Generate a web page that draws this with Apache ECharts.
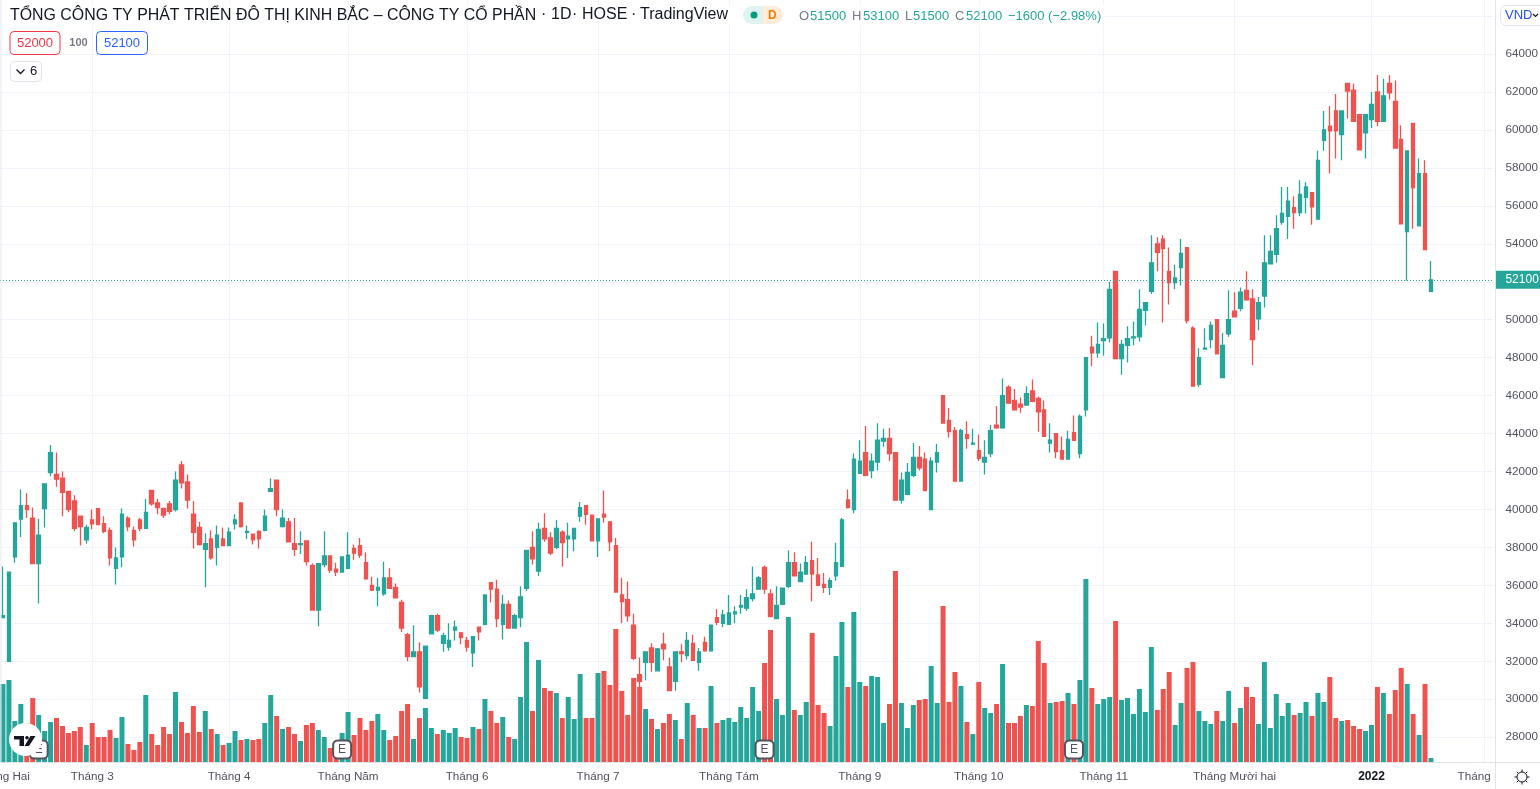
<!DOCTYPE html>
<html><head><meta charset="utf-8">
<style>html,body{margin:0;padding:0;background:#fff}#c{width:1540px;height:789px}</style>
<script src="https://cdn.jsdelivr.net/npm/echarts@6/dist/echarts.min.js"></script>
</head><body><div id="c"></div>
<script>
const opens=[34300,32000,37500,39500,40200,39550,37150,40050,41950,41850,41650,40950,40450,39650,38400,39450,40050,39250,38900,36900,
37500,39550,38900,39450,39000,41000,40350,40050,40300,40000,42350,41450,39750,39050,37900,38450,38000,38450,38100,39250,
40350,38800,38700,38850,38900,40950,41550,39100,39350,38200,38150,38350,37050,34700,37100,37550,36850,36700,36900,37950,
38100,37200,36000,35750,35550,36400,35900,35100,33400,32250,32500,30050,33450,34400,32950,32750,33650,33500,33100,32450,
33800,33950,36150,35800,33950,35000,33750,34300,35850,38000,36750,39000,38500,38000,38800,38450,38450,39650,40200,39700,
38350,39750,39350,38100,35500,35250,33900,31300,31950,32700,31500,32900,31700,30950,32500,32300,32950,31950,33000,32550,
34300,34000,33950,34500,34850,34800,35300,35800,36950,35550,34250,35000,35950,37200,36200,36600,37300,36550,36050,35900,
36500,37000,40500,40000,41900,43000,42050,42500,43600,43750,43000,40500,40800,41800,42750,42650,40000,42500,46000,44700,
44150,41500,43950,43450,43100,42500,42950,44450,44300,46450,45750,45550,45500,46250,45850,45250,43500,44000,43100,42650,
44050,42950,45250,48550,48250,48900,49050,52550,47950,48650,49050,49100,50500,51500,54000,54250,52550,51950,52750,53800,
49550,46600,48450,48950,50000,46950,49250,50450,50600,51550,51100,50050,51250,52950,53450,55150,55450,55900,55650,56450,
56700,55300,59450,60200,61000,59750,62450,62100,60800,59850,60550,62000,60450,62450,61500,59500,54650,60350,54950,57700,51500];
const closes=[34400,36700,39300,40200,40000,37150,38650,41350,43000,41600,40900,40000,39000,39100,39050,39250,39200,38850,37450,37450,
39750,39100,38400,39000,39850,40300,40100,39700,39900,41550,41400,40500,38800,38150,38200,37450,38650,38100,38800,39450,
39100,38850,38400,38450,39650,41100,40000,39550,38300,37900,38200,37250,34700,37150,37550,36800,36700,37500,37600,37700,
37600,36350,35750,35900,36400,35850,35350,33750,32250,32500,30650,32800,34400,33650,33350,33100,33800,33250,32750,33300,
33550,35500,35800,34250,35000,33750,34400,35400,37850,37400,38950,38450,37700,39000,38250,38600,39000,40100,39750,38350,
39500,39600,38300,35650,35150,34400,32150,30950,32500,31950,32650,32650,30450,32500,32400,33100,32050,32500,32550,33900,
34050,34450,34550,34600,34950,35350,35550,36400,35800,34350,34950,35850,37200,36500,36700,37200,36600,36000,35900,36250,
37200,39450,40100,42650,42550,41800,42550,43650,43750,42950,40500,41550,41950,42750,42200,41000,42550,43000,44550,44100,
41500,44150,43750,43500,42700,42750,44150,44300,46000,45600,45250,45400,46100,45700,45150,43850,43650,43050,42650,43700,
43650,44900,48000,48250,48700,49000,51600,47950,48700,49000,49100,50550,50900,53000,53550,53750,51950,52200,53500,49950,
46500,48000,48500,49700,48200,48650,50000,50150,51450,51050,48950,50900,53000,53600,54800,55600,56250,55650,56600,57000,
55950,58400,60000,59950,59950,61000,62050,60450,58950,60800,61350,60450,61800,61950,59050,55050,58900,56950,57700,53700,52100];
const highs=[37000,36700,39300,41050,40850,40100,39500,41350,43400,43000,42000,40950,40750,39650,39200,40000,40050,39650,39050,38000,
40050,39650,39100,39550,40550,41000,40550,40100,40450,42000,42550,41850,40450,39350,38750,38900,39150,39050,39050,39750,
40350,39150,38700,38900,40000,41650,41550,40000,39550,39550,38850,38350,37150,37150,38850,37550,37200,37500,38800,38150,
38500,37750,36450,36400,37250,36900,36100,35250,33500,33900,33000,32800,34450,34500,33500,34000,34150,33550,33300,33300,
33800,35500,36150,36300,35500,35200,34500,35950,37850,38850,39300,39800,38800,39450,38900,39300,39000,40400,40200,39700,
39500,41000,39350,38500,36400,36200,34500,32200,32500,32950,32700,33500,32200,32500,32900,33550,33400,32700,33300,33900,
34750,34700,35500,34900,35500,35800,37000,36500,37050,35800,35950,35850,37850,37750,37150,37550,38300,37450,36650,36400,
38250,39550,41050,42950,43650,44400,42950,44550,44250,44300,43000,41950,42450,43500,43350,43000,42750,43450,46000,45350,
44350,44250,44650,44250,43950,43650,44450,45450,46900,46550,46350,45900,46500,46850,45950,45750,44550,44000,43850,44150,
44950,45000,48000,49150,49850,49800,52000,52550,48950,49650,49900,51600,50900,54450,54350,54450,53800,52900,54250,53800,
49650,48500,49550,49900,50000,49300,51550,51450,51700,52550,51600,51200,54450,54450,55500,57000,57000,56500,57350,57250,
56700,58900,61000,61250,61900,61000,62450,62450,60800,60800,62000,62900,62700,62900,62600,60250,58900,60350,58500,58400,53100];
const lows=[34300,31950,37200,38550,39550,37150,35050,39050,41750,41200,39650,39850,38850,38100,38200,38950,39200,38750,37050,36050,
36950,38850,38050,38850,39000,40200,39750,39550,39750,39900,41100,40050,37950,38100,35900,37350,37050,38100,38100,38950,
39050,38450,38150,37950,38850,40950,39650,39050,38300,37550,37650,37050,34700,33850,36950,36650,36500,36700,36850,37350,
37450,36300,35700,34900,35450,35850,35350,33550,32000,32250,30350,30000,33450,33550,32500,32550,33100,32900,32500,31700,
33100,33900,35100,33800,33150,33750,33750,33800,35700,37100,36500,38300,37600,37900,37000,37450,37800,39350,39200,38350,
37500,39300,37800,35650,34000,34100,32050,30650,31000,31450,31500,32050,30450,30450,31950,32100,32050,31500,32500,32500,
33900,33800,33950,34000,34500,34650,35150,35800,35550,34350,34250,34950,35850,36500,36200,36550,35150,36000,35600,35500,
36250,37000,40050,39800,41900,41800,41650,42050,43300,42550,40500,40300,40750,41700,42050,41000,40000,41950,44550,43800,
41500,41500,43200,43400,42550,41850,42750,44250,44250,45600,45200,45100,45500,45650,44100,43850,43000,42700,42650,42650,
43650,42700,44900,47550,48000,48100,48800,47950,47100,47750,48650,48850,49700,51350,52550,49850,50800,51600,51800,49800,
46500,46450,48450,48500,48200,46950,49100,50150,50450,51000,47600,49450,50650,52950,53000,55000,54250,54800,55450,55600,
55000,55300,58900,57700,58500,58400,60600,60450,58950,58500,60100,60200,60450,61600,59050,55050,52050,54800,54950,53700,51500];
// volume, in units of 100 000 shares (estimated)
const volumes=[78,82,41,58,39,64,47,31,40,44,36,29,31,35,17,39,25,25,32,24,
45,18,12,20,67,28,17,35,28,70,40,29,56,30,51,33,28,17,19,31,
22,23,22,23,39,67,46,33,35,28,21,37,39,32,25,14,15,29,50,27,
44,32,41,48,32,22,26,51,58,23,44,54,34,28,32,29,34,25,24,35,
33,63,51,39,45,25,23,65,120,51,102,74,71,69,44,65,43,88,44,44,
89,91,77,133,71,47,84,75,53,43,33,39,48,42,23,59,47,34,34,76,
39,42,44,40,55,44,75,51,99,132,63,47,145,52,47,60,129,57,49,36,
106,140,75,150,80,76,86,85,39,58,191,59,34,57,62,63,96,59,156,60,
90,76,40,28,80,54,49,58,98,39,39,46,57,56,121,99,59,60,61,69,
58,82,183,74,58,63,65,141,62,64,48,73,50,115,52,73,90,37,59,94,
100,51,41,38,51,41,71,39,54,75,65,38,100,34,68,46,59,47,49,60,
46,69,60,85,44,41,42,36,33,31,37,75,69,48,72,94,78,48,27,78,4];
const monthBars=[0,15,38,58,78,100,122,144,164,185,207,230,249];
const monthNames=['Tháng Hai','Tháng 3','Tháng 4','Tháng Năm','Tháng 6','Tháng 7','Tháng Tám','Tháng 9','Tháng 10','Tháng 11','Tháng Mười hai','2022','Tháng Hai'];
const priceTicks=[64000,62000,60000,58000,56000,54000,52000,50000,48000,46000,44000,42000,40000,38000,36000,34000,32000,30000,28000];
const earningsBars=[6,57,128,180];
const lastPrice=52100;

const UP='#26a69a',DOWN='#ef5350',GRID='#f0f3fa',AX='#e0e3eb',TXT='#50535e';
const FONT='"Liberation Sans", Arial, sans-serif';
const BARS=251;
const categories=new Array(BARS).fill('');
monthBars.forEach((b,k)=>{categories[b]=monthNames[k];});
const labelled=new Set(monthBars);
const gridded=new Set(monthBars.slice(1));

const candles=opens.map((o,i)=>[o,closes[i],lows[i],highs[i]]);
const volData=volumes.map((v,i)=>({value:v,itemStyle:{color:closes[i]>=opens[i]?UP:DOWN}}));

function t(x,y,text,fill,size,extra){return Object.assign({type:'text',x,y,z:50,silent:true,
  style:{text,fill,font:(extra&&extra.weight?extra.weight+' ':'')+size+'px '+FONT,verticalAlign:'middle',align:(extra&&extra.align)||'left'}},{});}
function box(x,y,w,h,stroke,r){return {type:'rect',z:49,silent:true,shape:{x,y,width:w,height:h,r:r||4},style:{fill:'#fff',stroke,lineWidth:1}};}
function seg(x1,y1,x2,y2,c,w){return {type:'line',z:48,silent:true,shape:{x1,y1,x2,y2},style:{stroke:c,lineWidth:w||1}};}

const gear=[{type:'circle',z:60,silent:true,shape:{cx:1522,cy:777,r:5},style:{fill:'#fff',stroke:'#131722',lineWidth:1}}];
[[0,-1],[0,1],[1,0],[-1,0],[.7,.7],[.7,-.7],[-.7,.7],[-.7,-.7]].forEach(d=>{
  gear.push({type:'line',z:60,silent:true,shape:{x1:1522+d[0]*5,y1:777+d[1]*5,x2:1522+d[0]*7.5,y2:777+d[1]*7.5},style:{stroke:'#131722',lineWidth:1}});
});

const graphics=[
 {type:'rect',z:46,silent:true,shape:{x:1496,y:762,width:44,height:27},style:{fill:'#fff'}},
 {type:'rect',z:47,silent:true,shape:{x:0,y:5,width:1105,height:20},style:{fill:'rgba(255,255,255,0.85)'}},
 seg(1,0,1,762,'#e6e9f2'),
 seg(0,762.5,1540,762.5,AX),
 seg(1495.5,0,1495.5,789,AX),
 t(551,15,'1D','#131722',16),
 t(582,15,'HOSE','#131722',16),
 t(640,15,'TradingView','#131722',16),
 t(541,15,'·','#131722',16),
 t(572,15,'·','#131722',16),
 t(631,15,'·','#131722',16),
 {type:'rect',z:49,silent:true,shape:{x:743,y:6,width:20,height:18,r:[9,0,0,9]},style:{fill:'#dff3f0'}},
 {type:'rect',z:49,silent:true,shape:{x:763,y:6,width:20,height:18,r:[0,9,9,0]},style:{fill:'#ffecd9'}},
 {type:'circle',z:50,silent:true,shape:{cx:754,cy:15,r:3.5},style:{fill:'#089981'}},
 t(768,15.5,'D','#f57c00',12,{weight:'bold'}),
 t(799,16,'O','#787b86',13),t(810,16,'51500',UP,13),
 t(852,16,'H','#787b86',13),t(863,16,'53100',UP,13),
 t(905,16,'L','#787b86',13),t(913,16,'51500',UP,13),
 t(955,16,'C','#787b86',13),t(966,16,'52100',UP,13),
 t(1008,16,'−1600 (−2.98%)',UP,13),
 box(10,31.5,50,23,'#f23645'),t(35,43,'52000','#f23645',13,{align:'center'}),
 t(78.5,43,'100','#787b86',11,{weight:'bold',align:'center'}),
 box(96.5,31.5,51,23,'#2962ff'),t(122,43,'52100','#2962ff',13,{align:'center'}),
 box(10.5,61.5,31,20,AX),
 {type:'polyline',z:50,silent:true,shape:{points:[[16.5,69.5],[20.5,73.5],[24.5,69.5]]},style:{stroke:'#131722',lineWidth:1.3,fill:null}},
 t(30,71.5,'6','#131722',13),
 box(1500.5,5.5,46,20,AX,6),t(1505,15.5,'VND','#1e53e5',13),
 {type:'polyline',z:50,silent:true,shape:{points:[[1533,14],[1535.5,16.5],[1538,14]]},style:{stroke:'#131722',lineWidth:1.2,fill:null}},
 {type:'circle',z:70,silent:true,shape:{cx:25.5,cy:739.5,r:16.5},style:{fill:'#fff'}},
 {type:'rect',z:71,silent:true,shape:{x:14,y:736,width:10,height:3.5},style:{fill:'#131722'}},
 {type:'rect',z:71,silent:true,shape:{x:19.5,y:736,width:4.5,height:10},style:{fill:'#131722'}},
 {type:'circle',z:71,silent:true,shape:{cx:27,cy:737.7,r:1.8},style:{fill:'#131722'}},
 {type:'polygon',z:71,silent:true,shape:{points:[[30.5,736],[35.5,736],[29,746],[24.5,746]]},style:{fill:'#131722'}}
].concat(gear);

const chart=echarts.init(document.getElementById('c'),null,{renderer:'canvas'});
chart.setOption({
 animation:false,
 backgroundColor:'#fff',
 title:{text:'TỔNG CÔNG TY PHÁT TRIỂN ĐÔ THỊ KINH BẮC – CÔNG TY CỔ PHẦN',left:10,top:7.5,padding:0,z:51,
   textStyle:{fontFamily:FONT,fontSize:15.9,fontWeight:'normal',color:'#131722'}},
 grid:{left:0,top:0,width:BARS*5.95,height:762,containLabel:false,outerBoundsMode:'none'},
 xAxis:{type:'category',data:categories,boundaryGap:true,
   axisLine:{show:false},axisTick:{show:false},
   axisLabel:{show:true,interval:(i)=>labelled.has(i),margin:9,color:TXT,fontFamily:FONT,fontSize:11.7,hideOverlap:false,
     formatter:(v)=>v==='2022'?'{b|2022}':v,rich:{b:{fontWeight:'bold',color:'#131722',fontFamily:FONT,fontSize:12}}},
   splitLine:{show:true,interval:(i)=>gridded.has(i),alignWithLabel:true,lineStyle:{color:GRID,width:1}}},
 yAxis:[
  {type:'value',position:'right',offset:2,min:26694,max:66848,scale:true,
   axisLine:{show:false},
   axisTick:{show:false,customValues:priceTicks.concat([66000])},
   axisLabel:{customValues:priceTicks,margin:10,color:TXT,fontFamily:FONT,fontSize:11.7,padding:[4,0,0,0],formatter:(v)=>String(v)},
   splitLine:{show:true,lineStyle:{color:GRID,width:1}}},
  {type:'value',show:false,min:0,max:762,splitLine:{show:false}}
 ],
 graphic:graphics,
 series:[
  {name:'Volume',type:'bar',yAxisIndex:1,barWidth:5,z:1,data:volData,silent:true},
  {name:'KBC',type:'candlestick',z:2,barWidth:4,data:candles,silent:true,
   itemStyle:{color:UP,color0:DOWN,borderColor:UP,borderColor0:DOWN,borderWidth:1.3},
   markLine:{silent:true,symbol:'none',animation:false,z:3,
     lineStyle:{color:UP,type:[1,2],width:1},
     label:{show:true,position:'end',distance:2,formatter:String(lastPrice),backgroundColor:UP,color:'#fff',
       fontFamily:FONT,fontSize:12,fontWeight:'normal',padding:[4,3,2,10]},
     data:[{yAxis:lastPrice}]}},
  {name:'Earnings',type:'scatter',yAxisIndex:1,z:4,silent:true,symbol:'roundRect',symbolSize:18,
   itemStyle:{color:'#fff',borderColor:'#50535e',borderWidth:2,opacity:1},
   label:{show:true,position:'inside',formatter:'E',color:'#50535e',fontFamily:FONT,fontSize:12},
   data:earningsBars.map(b=>[b,12.5])}
 ]
});
</script></body></html>
